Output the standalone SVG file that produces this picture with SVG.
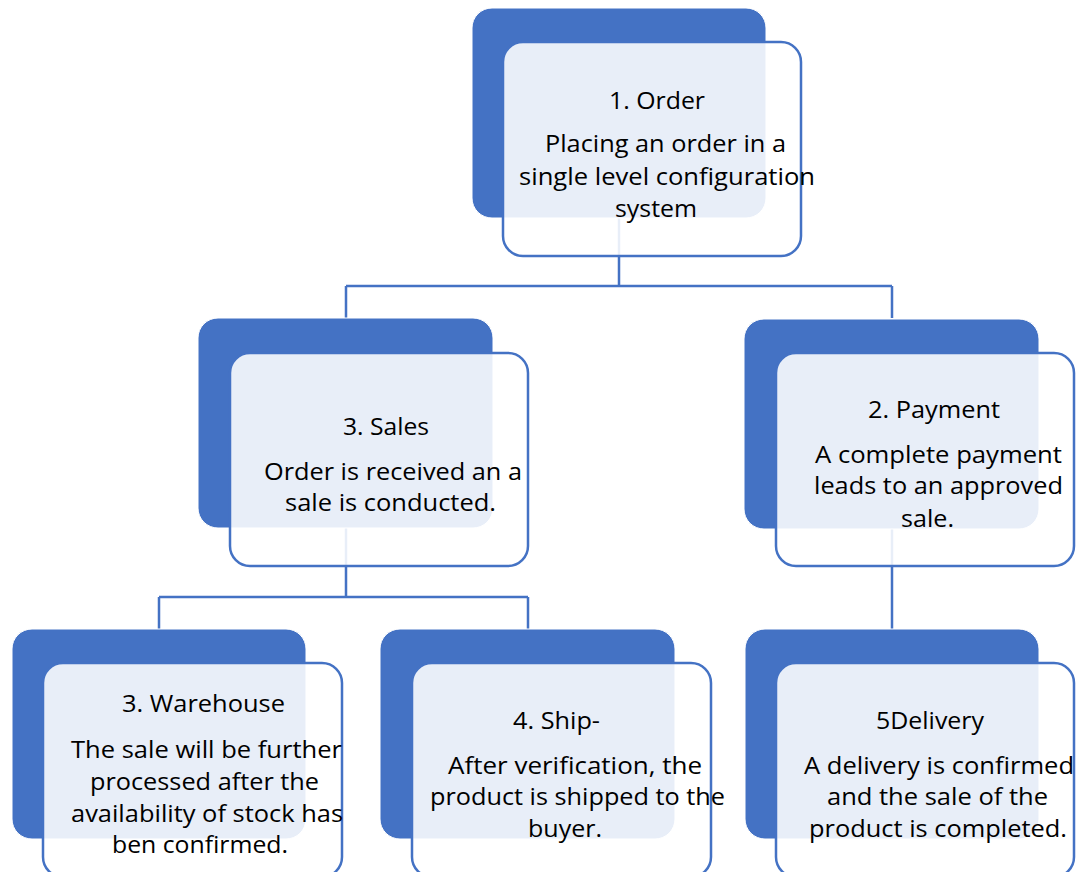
<svg xmlns="http://www.w3.org/2000/svg" width="1084" height="872" viewBox="0 0 1084 872">
<style>
.bg{fill:#4472C4;stroke:#ffffff;stroke-width:1}
.fg{fill:#ffffff;fill-opacity:0.88;stroke:#4472C4;stroke-width:2.5}
.c{fill:none;stroke:#4472C4;stroke-width:2.5}
text{font-family:"Open Sans","Noto Sans",sans-serif;font-size:24px;fill:#000000}
</style>
<rect width="1084" height="872" fill="#ffffff"/>
<g id="connectors">
<path class="c" d="M619,218 V286 M346,286 H892 M346,286 V318 M892,286 V318"/>
<path class="c" d="M346,528 V597 M159,597 H528 M159,597 V629 M528,597 V629"/>
<path class="c" d="M892,528 V629"/>
</g>
<g id="node-order">
<rect class="bg" x="472" y="8" width="294" height="210" rx="20"/>
<rect class="fg" x="503" y="42" width="298" height="214" rx="20"/>
<text x="609" y="109" textLength="96" lengthAdjust="spacingAndGlyphs">1. Order</text>
<text x="545" y="152" textLength="241" lengthAdjust="spacingAndGlyphs">Placing an order in a</text>
<text x="519" y="185" textLength="296" lengthAdjust="spacingAndGlyphs">single level configuration</text>
<text x="615" y="217" textLength="82" lengthAdjust="spacingAndGlyphs">system</text>
</g>
<g id="node-sales">
<rect class="bg" x="198" y="318" width="295" height="210" rx="20"/>
<rect class="fg" x="230" y="353" width="298" height="213" rx="20"/>
<text x="343" y="435" textLength="86" lengthAdjust="spacingAndGlyphs">3. Sales</text>
<text x="264" y="480" textLength="258" lengthAdjust="spacingAndGlyphs">Order is received an a</text>
<text x="285" y="511" textLength="211" lengthAdjust="spacingAndGlyphs">sale is conducted.</text>
</g>
<g id="node-payment">
<rect class="bg" x="744" y="319" width="295" height="210" rx="20"/>
<rect class="fg" x="776" y="353" width="298" height="213" rx="20"/>
<text x="868" y="418" textLength="132" lengthAdjust="spacingAndGlyphs">2. Payment</text>
<text x="815" y="463" textLength="247" lengthAdjust="spacingAndGlyphs">A complete payment</text>
<text x="814" y="494" textLength="249" lengthAdjust="spacingAndGlyphs">leads to an approved</text>
<text x="901" y="527" textLength="53" lengthAdjust="spacingAndGlyphs">sale.</text>
</g>
<g id="node-warehouse">
<rect class="bg" x="12" y="629" width="294" height="210" rx="20"/>
<rect class="fg" x="43" y="663" width="299" height="214" rx="20"/>
<text x="122" y="712" textLength="163" lengthAdjust="spacingAndGlyphs">3. Warehouse</text>
<text x="71" y="758" textLength="271" lengthAdjust="spacingAndGlyphs">The sale will be further</text>
<text x="90" y="790" textLength="229" lengthAdjust="spacingAndGlyphs">processed after the</text>
<text x="71" y="822" textLength="272" lengthAdjust="spacingAndGlyphs">availability of stock has</text>
<text x="112" y="853" textLength="176" lengthAdjust="spacingAndGlyphs">ben confirmed.</text>
</g>
<g id="node-ship">
<rect class="bg" x="380" y="629" width="295" height="210" rx="20"/>
<rect class="fg" x="412" y="663" width="299" height="214" rx="20"/>
<text x="513" y="729" textLength="87" lengthAdjust="spacingAndGlyphs">4. Ship-</text>
<text x="448" y="774" textLength="254" lengthAdjust="spacingAndGlyphs">After verification, the</text>
<text x="430" y="805" textLength="295" lengthAdjust="spacingAndGlyphs">product is shipped to the</text>
<text x="528" y="837" textLength="74" lengthAdjust="spacingAndGlyphs">buyer.</text>
</g>
<g id="node-delivery">
<rect class="bg" x="745" y="629" width="294" height="210" rx="20"/>
<rect class="fg" x="776" y="663" width="298" height="214" rx="20"/>
<text x="876" y="729" textLength="108" lengthAdjust="spacingAndGlyphs">5Delivery</text>
<text x="804" y="774" textLength="270" lengthAdjust="spacingAndGlyphs">A delivery is confirmed</text>
<text x="827" y="805" textLength="221" lengthAdjust="spacingAndGlyphs">and the sale of the</text>
<text x="809" y="837" textLength="258" lengthAdjust="spacingAndGlyphs">product is completed.</text>
</g>
</svg>
